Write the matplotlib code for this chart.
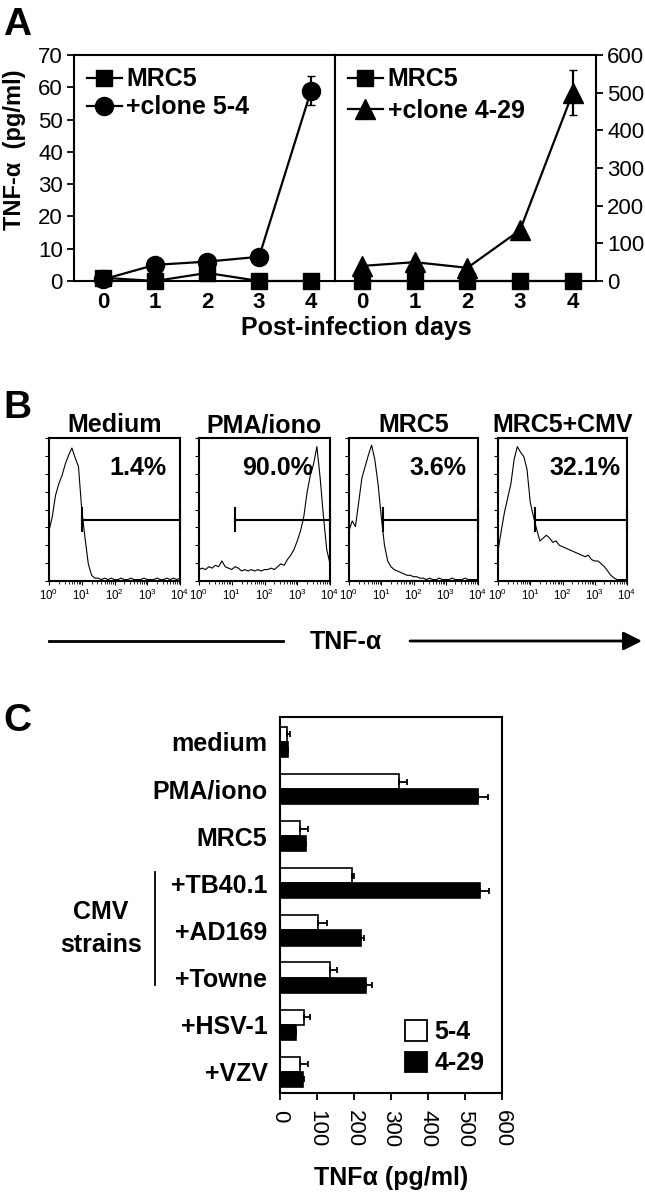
import matplotlib
matplotlib.use("Agg")
import matplotlib.pyplot as plt
import numpy as np
from matplotlib.patches import Patch
from matplotlib.lines import Line2D
from matplotlib.ticker import LogLocator, NullFormatter, FixedLocator

plt.rcParams['font.family'] = ['Liberation Sans', 'DejaVu Sans']

# ---------------- data ----------------
days = [0, 1, 2, 3, 4]
a_left_mrc5 = [1.0, 0.0, 2.5, 0.0, 0.0]
a_left_clone54 = [0.5, 5.0, 6.0, 7.5, 59.0]
a_left_clone54_err = [0, 0, 0, 0, 4.5]
a_right_mrc5 = [0, 0, 0, 0, 0]
a_right_clone429 = [40, 50, 35, 135, 500]
a_right_clone429_err = [0, 0, 0, 0, 60]

b_titles = ["Medium", "PMA/iono", "MRC5", "MRC5+CMV"]
b_percent = ["1.4%", "90.0%", "3.6%", "32.1%"]
b_gate_start_log = [1.02, 1.09, 1.06, 1.14]
b_gate_level = [0.43, 0.43, 0.43, 0.43]
hist_logx = [0.0, 0.1, 0.2, 0.3, 0.4, 0.5, 0.6, 0.7, 0.8, 0.9, 1.0,
             1.1, 1.2, 1.3, 1.4, 1.5, 1.6, 1.7, 1.8, 1.9, 2.0,
             2.1, 2.2, 2.3, 2.4, 2.5, 2.6, 2.7, 2.8, 2.9, 3.0,
             3.1, 3.2, 3.3, 3.4, 3.5, 3.6, 3.7, 3.8, 3.9, 4.0]
hist_medium = [0.35, 0.45, 0.60, 0.68, 0.74, 0.82, 0.88, 0.93, 0.86, 0.80, 0.50,
               0.30, 0.12, 0.04, 0.02, 0.02, 0.01, 0.02, 0.01, 0.02, 0.01,
               0.01, 0.02, 0.01, 0.01, 0.02, 0.01, 0.01, 0.01, 0.02, 0.01,
               0.01, 0.01, 0.02, 0.01, 0.01, 0.02, 0.01, 0.02, 0.01, 0.02]
hist_pma = [0.08, 0.09, 0.08, 0.10, 0.09, 0.11, 0.10, 0.14, 0.10, 0.09, 0.08,
            0.10, 0.09, 0.07, 0.08, 0.07, 0.08, 0.07, 0.08, 0.07, 0.08,
            0.08, 0.09, 0.08, 0.10, 0.12, 0.11, 0.15, 0.18, 0.22, 0.28,
            0.35, 0.45, 0.62, 0.74, 0.82, 0.94, 0.72, 0.45, 0.22, 0.12]
hist_mrc5 = [0.35, 0.42, 0.38, 0.55, 0.72, 0.80, 0.88, 0.95, 0.85, 0.68, 0.45,
             0.25, 0.14, 0.10, 0.08, 0.07, 0.06, 0.05, 0.04, 0.04, 0.03,
             0.03, 0.02, 0.02, 0.01, 0.02, 0.01, 0.01, 0.02, 0.01, 0.01,
             0.01, 0.02, 0.01, 0.01, 0.01, 0.02, 0.01, 0.01, 0.01, 0.01]
hist_cmv = [0.21, 0.35, 0.48, 0.58, 0.68, 0.85, 0.94, 0.90, 0.87, 0.78, 0.55,
            0.45, 0.36, 0.28, 0.30, 0.32, 0.30, 0.27, 0.28, 0.25, 0.24,
            0.23, 0.22, 0.21, 0.20, 0.19, 0.18, 0.17, 0.18, 0.15, 0.14,
            0.14, 0.12, 0.10, 0.07, 0.04, 0.02, 0.01, 0.01, 0.01, 0.01]
b_hists = [hist_medium, hist_pma, hist_mrc5, hist_cmv]

c_categories = ["medium", "PMA/iono", "MRC5", "+TB40.1", "+AD169", "+Towne", "+HSV-1", "+VZV"]
c_clone54 = [18, 322, 53, 195, 103, 135, 64, 53]
c_clone54_err = [9, 22, 24, 4, 23, 19, 17, 22]
c_clone429 = [22, 535, 70, 540, 219, 232, 44, 62]
c_clone429_err = [0, 28, 0, 26, 7, 17, 0, 4]
c_xticks = [0, 100, 200, 300, 400, 500, 600]

# ---------------- layout helpers ----------------
W, H = 645, 1199
fig = plt.figure(figsize=(W / 100, H / 100), dpi=100)


def rect(x0, y0, x1, y1):
    return [x0 / W, 1 - y1 / H, (x1 - x0) / W, (y1 - y0) / H]


over = fig.add_axes([0, 0, 1, 1], zorder=-1)
over.set_xlim(0, W)
over.set_ylim(H, 0)
over.axis('off')

BOLD = dict(fontweight='bold')

# ---------------- Panel A ----------------
axL = fig.add_axes(rect(74, 55, 335, 281))
axR = fig.add_axes(rect(335, 55, 596, 281))

axL.plot(days, a_left_mrc5, color='k', lw=1.6, marker='s', ms=12, clip_on=False, zorder=3)
axL.errorbar(days, a_left_clone54, yerr=a_left_clone54_err, color='k', lw=1.6, marker='o',
             ms=13, capsize=3, clip_on=False, zorder=4)
axL.set_xlim(-0.56, 4.46)
axL.set_ylim(0, 70)
axL.set_yticks(range(0, 71, 10))
axL.set_xticks(days)
axL.tick_params(axis='y', labelsize=16, length=5, width=1.3, pad=3)
axL.tick_params(axis='x', labelsize=16, length=0, pad=8)
for t in axL.get_xticklabels():
    t.set_fontweight('bold')

axR.plot(days, a_right_mrc5, color='k', lw=1.6, marker='s', ms=12, clip_on=False, zorder=3)
axR.errorbar(days, a_right_clone429, yerr=a_right_clone429_err, color='k', lw=1.6, marker='^',
             ms=14, capsize=3, clip_on=False, zorder=4)
axR.set_xlim(-0.51, 4.44)
axR.set_ylim(0, 600)
axR.set_yticks(range(0, 601, 100))
axR.set_xticks(days)
axR.yaxis.tick_right()
axR.tick_params(axis='y', labelsize=16, length=5, width=1.3, pad=3, left=False)
axR.tick_params(axis='x', labelsize=16, length=0, pad=8)
for t in axR.get_xticklabels():
    t.set_fontweight('bold')

for ax in (axL, axR):
    for s in ax.spines.values():
        s.set_linewidth(1.5)

axL.legend(handles=[Line2D([], [], color='k', lw=1.6, marker='s', ms=12),
                    Line2D([], [], color='k', lw=1.6, marker='o', ms=13)],
           labels=["MRC5", "+clone 5-4"], loc='upper left', frameon=False,
           prop=dict(size=18, weight='bold'), handlelength=1.4, handletextpad=0.2,
           labelspacing=0.15, borderaxespad=0.1, bbox_to_anchor=(0.0, 1.0))
axR.legend(handles=[Line2D([], [], color='k', lw=1.6, marker='s', ms=12),
                    Line2D([], [], color='k', lw=1.6, marker='^', ms=14)],
           labels=["MRC5", "+clone 4-29"], loc='upper left', frameon=False,
           prop=dict(size=18, weight='bold'), handlelength=1.4, handletextpad=0.2,
           labelspacing=0.3, borderaxespad=0.1, bbox_to_anchor=(0.0, 1.0))

over.text(15, 150, "TNF-α  (pg/ml)", rotation=90, ha='center', va='center', fontsize=17, **BOLD)
over.text(356, 328, "Post-infection days", ha='center', va='center', fontsize=18, **BOLD)
over.text(3, 25, "A", ha='left', va='center', fontsize=28, fontweight='heavy')

# ---------------- Panel B ----------------
b_boxes = [(49, 180), (199, 330), (349, 478), (498, 627)]
pct_x = [0.90, 0.87, 0.91, 0.95]
hx = 10.0 ** np.array(hist_logx)
for i, (x0, x1) in enumerate(b_boxes):
    ax = fig.add_axes(rect(x0, 438, x1, 581))
    ax.plot(hx, b_hists[i], color='k', lw=0.8)
    ax.set_xscale('log')
    ax.set_xlim(1, 1e4)
    ax.set_ylim(0, 1)
    gs = 10.0 ** b_gate_start_log[i]
    g = b_gate_level[i]
    ax.plot([gs, 1e4], [g, g], color='k', lw=1.5, clip_on=False)
    ax.plot([gs, gs], [g - 0.08, g + 0.08], color='k', lw=1.5, clip_on=False)
    ax.plot([1e4, 1e4], [g - 0.08, g + 0.08], color='k', lw=1.5, clip_on=False)
    ax.xaxis.set_major_locator(LogLocator(base=10, numticks=10))
    ax.xaxis.set_minor_locator(LogLocator(base=10, subs=np.arange(2, 10), numticks=10))
    ax.xaxis.set_minor_formatter(NullFormatter())
    ax.yaxis.set_major_locator(FixedLocator(np.arange(0, 1.01, 0.125)))
    ax.set_yticklabels([])
    ax.tick_params(axis='x', which='major', labelsize=8.3, length=3, width=0.8, pad=2)
    ax.tick_params(axis='x', which='minor', length=2, width=0.6)
    ax.tick_params(axis='y', length=3, width=0.8)
    for s in ax.spines.values():
        s.set_linewidth(1.5)
    ax.set_title(b_titles[i], fontsize=18, fontweight='bold', pad=4)
    ax.text(pct_x[i], 0.79, b_percent[i], transform=ax.transAxes, ha='right', va='center',
            fontsize=18, fontweight='bold')

over.text(3, 408, "B", ha='left', va='center', fontsize=28, fontweight='heavy')
over.plot([49, 283], [641, 641], color='k', lw=2)
over.text(346, 642, "TNF-α", ha='center', va='center', fontsize=18, **BOLD)
over.annotate("", xy=(642, 641), xytext=(410, 641),
              arrowprops=dict(arrowstyle='-|>', mutation_scale=28, lw=2, color='k',
                              shrinkA=0, shrinkB=0))

# ---------------- Panel C ----------------
axC = fig.add_axes(rect(280, 717, 502, 1093))
yc = np.arange(len(c_categories))
bh = 0.32
axC.barh(yc - bh / 2, c_clone54, height=bh, color='white', edgecolor='k', lw=1.2,
         xerr=[np.zeros(len(c_clone54)), c_clone54_err],
         error_kw=dict(ecolor='k', lw=1.3, capsize=2.5, capthick=1.3), label="5-4")
axC.barh(yc + bh / 2, c_clone429, height=bh, color='black', edgecolor='k', lw=1.2,
         xerr=[np.zeros(len(c_clone429)), c_clone429_err],
         error_kw=dict(ecolor='k', lw=1.3, capsize=2.5, capthick=1.3), label="4-29")
axC.set_ylim(7.45, -0.53)
axC.set_xlim(0, 600)
axC.set_yticks(yc)
axC.set_yticklabels(c_categories, fontsize=18, fontweight='bold')
axC.tick_params(axis='y', length=0, pad=9)
axC.set_xticks(c_xticks)
axC.set_xticklabels([str(v) for v in c_xticks], rotation=-90, fontsize=16)
axC.tick_params(axis='x', length=5, width=1.3, pad=7)
for s in axC.spines.values():
    s.set_linewidth(1.5)
axC.legend(handles=[Patch(facecolor='white', edgecolor='k', lw=1.3),
                    Patch(facecolor='black', edgecolor='k', lw=1.3)],
           labels=["5-4", "4-29"], loc='lower right', frameon=False,
           prop=dict(size=18, weight='bold'), handlelength=0.9, handleheight=0.9,
           handletextpad=0.3, labelspacing=0.3, borderaxespad=0.3)

over.text(3, 721, "C", ha='left', va='center', fontsize=28, fontweight='heavy')
over.text(101, 912, "CMV", ha='center', va='center', fontsize=18, **BOLD)
over.text(101, 945, "strains", ha='center', va='center', fontsize=18, **BOLD)
over.plot([155, 155], [872, 985], color='k', lw=1.3)
over.text(391, 1178, "TNFα (pg/ml)", ha='center', va='center', fontsize=18, **BOLD)

fig.savefig("out.png", dpi=100)
